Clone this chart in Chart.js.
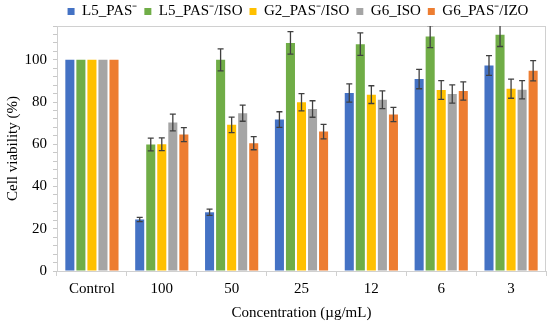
<!DOCTYPE html>
<html>
<head>
<meta charset="utf-8">
<script src="https://cdn.jsdelivr.net/npm/chart.js@4"></script>
<style>
  html, body { margin: 0; padding: 0; background: #fff; }
  #wrap { width: 550px; height: 326px; }
</style>
</head>
<body>
<div id="wrap"><canvas id="viabilityChart" width="550" height="326"></canvas></div>
<script>
/* global Chart */

// categories and series
const concentrations = ['Control', '100', '50', '25', '12', '6', '3'];
const seriesNames = ['L5_PAS\u207B', 'L5_PAS\u207B/ISO', 'G2_PAS\u207B/ISO', 'G6_ISO', 'G6_PAS\u207B/IZO'];
const seriesColors = ['#4472C4', '#70AD47', '#FFC000', '#A5A5A5', '#ED7D31'];

const l5Pas = [100, 24.4, 27.8, 71.7, 84.3, 90.9, 97.3];
const l5PasIso = [100, 59.9, 100, 108, 107.4, 111, 111.8];
const g2PasIso = [100, 60, 69.2, 79.9, 83.5, 85.7, 86.3];
const g6Iso = [100, 70.3, 74.7, 76.7, 81.1, 83.8, 85.8];
const g6PasIzo = [100, 64.6, 60.5, 66, 74.1, 85.2, 94.8];

const l5PasErr = [0, 1, 1.5, 3.7, 4.3, 4.6, 4.7];
const l5PasIsoErr = [0, 3, 5.2, 5.3, 5.3, 5.2, 5.5];
const g2PasIsoErr = [0, 3, 3.7, 4.1, 4.2, 4.4, 4.5];
const g6IsoErr = [0, 4, 3.8, 3.9, 4.2, 4.3, 4.3];
const g6PasIzoErr = [0, 3.3, 3.1, 3.4, 3.4, 4.3, 4.8];

const yTicksMax = 116;
const yMinorStep = 4;
const yMajorStep = 20;

const allValues = [l5Pas, l5PasIso, g2PasIso, g6Iso, g6PasIzo];
const allErrors = [l5PasErr, l5PasIsoErr, g2PasIsoErr, g6IsoErr, g6PasIzoErr];

const serif = "'Liberation Serif', 'Times New Roman', serif";

// error bars drawn from the y scale
const errorBarPlugin = {
    id: 'errorBars',
    afterDatasetsDraw(chart) {
        const ctx = chart.ctx;
        const yScale = chart.scales.y;
        const area = chart.chartArea;
        ctx.save();
        ctx.beginPath();
        ctx.rect(area.left, area.top, area.right - area.left, area.bottom - area.top);
        ctx.clip();
        ctx.strokeStyle = '#404040';
        ctx.lineWidth = 1.3;
        chart.data.datasets.forEach(function (ds, i) {
            const meta = chart.getDatasetMeta(i);
            meta.data.forEach(function (bar, j) {
                const err = ds.errors[j];
                if (!err) return;
                const x = bar.x;
                const yTop = yScale.getPixelForValue(ds.data[j] + err);
                const yBot = yScale.getPixelForValue(ds.data[j] - err);
                ctx.beginPath();
                ctx.moveTo(x, yTop); ctx.lineTo(x, yBot);
                ctx.moveTo(x - 3, yTop); ctx.lineTo(x + 3, yTop);
                ctx.moveTo(x - 3, yBot); ctx.lineTo(x + 3, yBot);
                ctx.stroke();
            });
        });
        ctx.restore();
    }
};

// thin frame around the plot area
const framePlugin = {
    id: 'plotFrame',
    beforeDatasetsDraw(chart) {
        const a = chart.chartArea;
        const ctx = chart.ctx;
        ctx.save();
        ctx.strokeStyle = '#d0d0d0';
        ctx.lineWidth = 1;
        ctx.strokeRect(a.left + 0.5, a.top + 0.5, a.right - a.left - 1, a.bottom - a.top);
        ctx.restore();
    }
};

// keep the legend band short and centred over the plot like the original
const legendPlacePlugin = {
    id: 'legendPlace',
    beforeLayout(chart) {
        const lg = chart.legend;
        if (!lg || lg._patched) return;
        const fit = lg.fit;
        lg.fit = function () {
            fit.call(this);
            this.height = 26;
        };
        lg._patched = true;
    },
    afterLayout(chart) {
        const lg = chart.legend;
        if (!lg) return;
        lg.top = -3;
        lg.left += 24;
        lg.right += 24;
    }
};

const datasets = seriesNames.map(function (name, i) {
    return {
        label: name,
        data: allValues[i],
        errors: allErrors[i],
        backgroundColor: seriesColors[i],
        borderWidth: 0,
        categoryPercentage: 0.79,
        barPercentage: 0.82
    };
});

new Chart(document.getElementById('viabilityChart').getContext('2d'), {
    type: 'bar',
    data: { labels: concentrations, datasets: datasets },
    options: {
        responsive: false,
        animation: false,
        layout: { padding: { left: 2, right: 4, top: 0, bottom: 4 } },
        plugins: {
            legend: {
                position: 'top',
                labels: {
                    font: { family: serif, size: 15 },
                    color: '#000',
                    boxWidth: 7,
                    boxHeight: 7,
                    padding: 7
                }
            },
            tooltip: { enabled: false }
        },
        scales: {
            x: {
                afterFit: function (scale) { scale.height = 51; },
                grid: {
                    offset: true,
                    drawOnChartArea: false,
                    tickLength: 5,
                    color: '#d0d0d0'
                },
                border: { color: '#d0d0d0' },
                ticks: {
                    font: { family: serif, size: 15 },
                    color: '#000',
                    padding: 4
                },
                title: {
                    display: true,
                    text: 'Concentration (\u00B5g/mL)',
                    font: { family: serif, size: 15 },
                    color: '#000',
                    padding: { top: 2, bottom: 0 }
                }
            },
            y: {
                min: 0,
                max: yTicksMax,
                afterFit: function (scale) { scale.width = 55; },
                grid: {
                    drawOnChartArea: false,
                    tickLength: 4,
                    color: '#c8c8c8'
                },
                border: { color: '#d0d0d0' },
                ticks: {
                    stepSize: yMinorStep,
                    autoSkip: false,
                    font: { family: serif, size: 15 },
                    color: '#000',
                    padding: 6,
                    callback: function (v) {
                        return v % yMajorStep === 0 ? String(v) : '';
                    }
                },
                title: {
                    display: true,
                    text: 'Cell viability (%)',
                    font: { family: serif, size: 15 },
                    color: '#000',
                    padding: { top: 2, bottom: 2 }
                }
            }
        }
    },
    plugins: [legendPlacePlugin, framePlugin, errorBarPlugin]
});
</script>
</body>
</html>
